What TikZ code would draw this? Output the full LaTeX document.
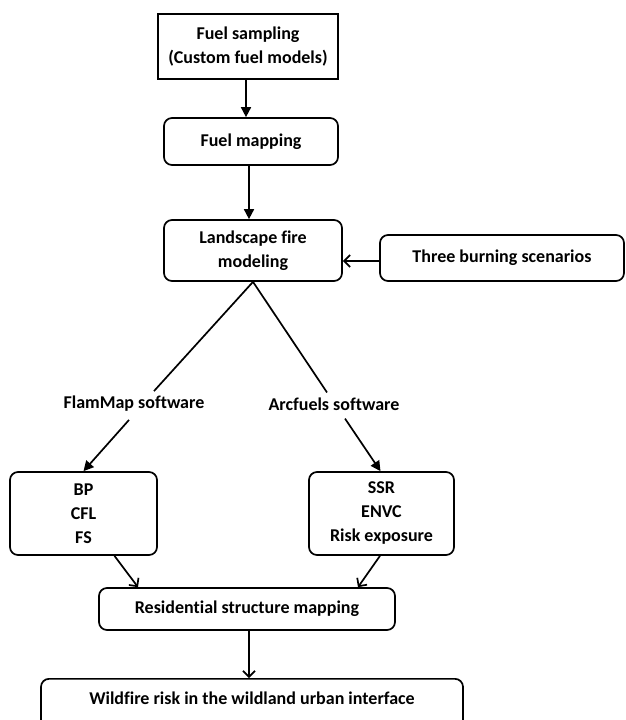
\documentclass[tikz,border=0pt]{standalone}
\usepackage{fontspec}
\setmainfont{Carlito}[Ligatures=NoCommon]
\usetikzlibrary{arrows.meta}
\begin{document}
\begin{tikzpicture}[x=1pt,y=-1pt,
  every node/.style={font=\fontsize{18}{24}\selectfont\bfseries, align=center, inner sep=0pt},
  box/.style={draw, line width=1.7pt, minimum width=#1},
  rbox/.style={box=#1, rounded corners=8pt},
  conn/.style={line width=1.7pt},
  fillarr/.style={conn, -{Triangle[length=10pt,width=10pt]}},
  openarr/.style={conn, -{Straight Barb[length=6pt,width=12pt,line width=1.7pt]}}]
\clip (0,0) rectangle (625,720);
\fill[white] (0,0) rectangle (625,720);
\node[box=180, minimum height=65] (box1) at (248,46.5) {Fuel sampling\\(Custom fuel models)};
\node[rbox=174, minimum height=47] (box2) at (251,141.5) {Fuel mapping};
\node[rbox=178, minimum height=61] (land) at (253,250.5) {Landscape fire\\modeling};
\node[rbox=244, minimum height=46] (three) at (502,258) {Three burning scenarios};
\node (fm) at (134,404) {FlamMap software};
\node (af) at (334,404) {Arcfuels software};
\node[rbox=147, minimum height=83] (bp) at (83.5,513.5) {BP\\CFL\\FS};
\node[rbox=145, minimum height=83] (ssr) at (381.5,513.5) {SSR\\ENVC\\Risk exposure};
\node[rbox=296, minimum height=42] (res) at (247,609) {Residential structure mapping};
\node[rbox=422, minimum height=50, text depth=12pt, anchor=north] (wf) at (252,678) {Wildfire risk in the wildland urban interface};
\draw[fillarr] ([xshift=-2pt]box1.south) -- ([xshift=-2pt]box1.south |- box2.north);
\draw[fillarr] ([xshift=-2pt]box2.south) -- ([xshift=-2pt]box2.south |- land.north);
\draw[openarr] ([yshift=-3pt]three.west) -- ([yshift=-3pt]three.west -| land.east);
\draw[conn] (land.south) -- ([xshift=20pt,yshift=5pt]fm.north);
\draw[conn] (land.south) -- ([xshift=-7pt,yshift=5pt]af.north);
\draw[fillarr] ([xshift=-5pt,yshift=-8pt]fm.south) -- (bp.north);
\draw[fillarr] ([xshift=11pt,yshift=-8pt]af.south) -- ([xshift=-1pt]ssr.north);
\draw[openarr] ([xshift=31pt]bp.south) -- ([xshift=-109pt]res.north);
\draw[openarr] ([xshift=-1.5pt]ssr.south) -- ([xshift=111pt]res.north);
\draw[openarr] ([xshift=2pt]res.south) -- ([xshift=2pt]res.south |- wf.north);
\end{tikzpicture}
\end{document}
